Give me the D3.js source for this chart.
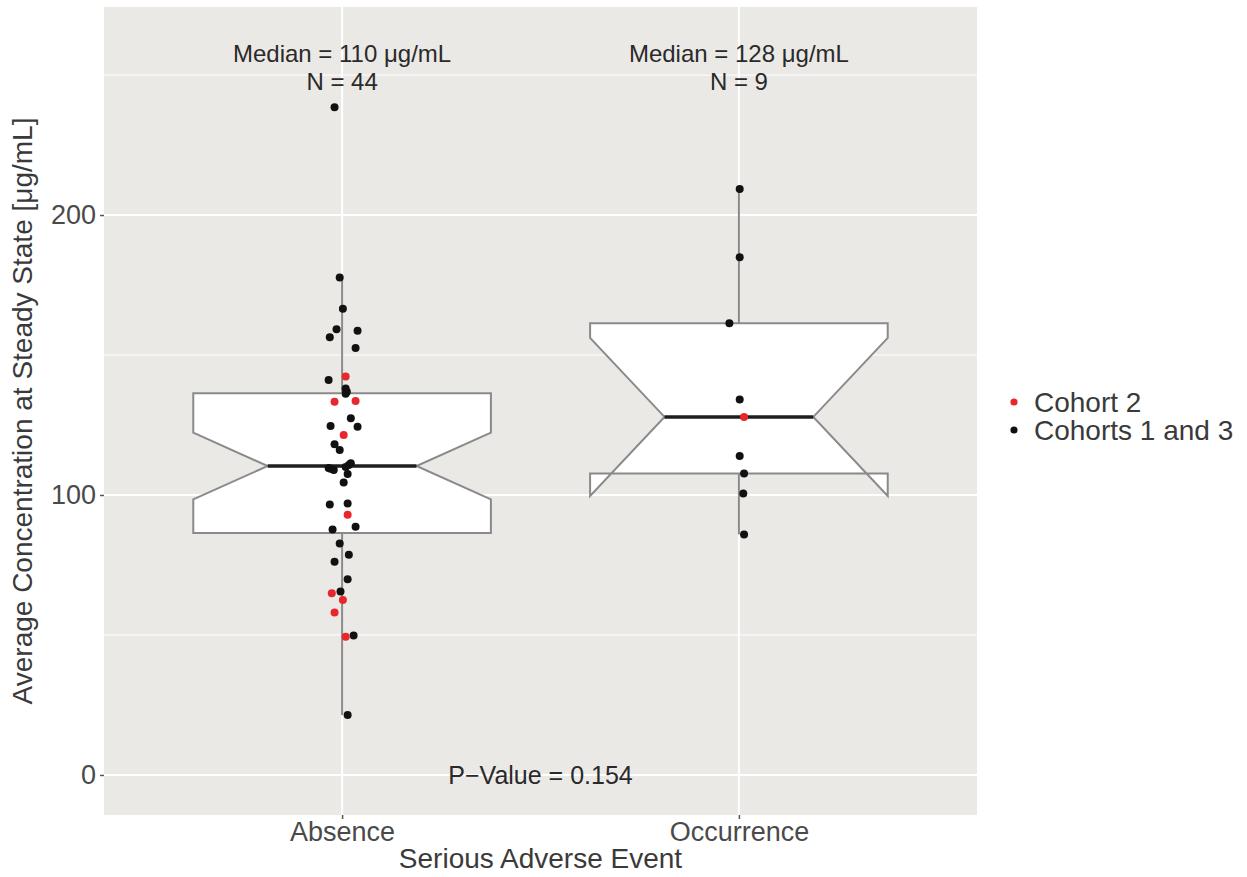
<!DOCTYPE html>
<html>
<head>
<meta charset="utf-8">
<script src="https://cdn.jsdelivr.net/npm/d3@7"></script>
<style>
  html, body { margin: 0; padding: 0; background: #ffffff; }
  svg { display: block; font-family: "Liberation Sans", Arial, sans-serif; }
</style>
</head>
<body>
<svg id="chart" width="1247" height="877"></svg>
<script>
// Categories on the x axis
const categories = ["Absence", "Occurrence"];

// Average steady-state concentrations (µg/mL), one array per group
const absenceValues = [238.5, 177.7, 166.5, 159.2, 158.7, 156.3, 152.5, 142.3, 141.1, 138.0,
  136.9, 136.2, 133.6, 133.3, 127.4, 124.6, 124.4, 121.4, 118.1, 116.1,
  111.3, 110.7, 110.0, 109.6, 109.4, 108.9, 107.5, 104.5, 97.0, 96.6,
  92.9, 88.7, 87.7, 82.7, 78.7, 76.2, 69.9, 65.5, 64.9, 62.5,
  58.0, 49.8, 49.4, 21.4];
// Cohort of each Absence subject (2 = Cohort 2, 13 = Cohorts 1 and 3)
const absenceCohort = [13, 13, 13, 13, 13, 13, 13, 2, 13, 13,
  13, 13, 2, 2, 13, 13, 13, 2, 13, 13,
  13, 13, 13, 13, 13, 13, 13, 13, 13, 13,
  2, 13, 13, 13, 13, 13, 13, 13, 2, 2,
  2, 13, 2, 13];
// Horizontal jitter of each Absence point, in category units
const absenceJitter = [-0.019, -0.006, 0.002, -0.014, 0.039, -0.031, 0.034, 0.009, -0.034, 0.009,
  0.012, 0.009, 0.034, -0.019, 0.022, -0.029, 0.039, 0.004, -0.019, -0.006,
  0.022, 0.017, 0.009, -0.034, -0.029, -0.021, 0.014, 0.004, 0.014, -0.031,
  0.014, 0.034, -0.024, -0.006, 0.017, -0.019, 0.014, -0.004, -0.026, 0.002,
  -0.019, 0.029, 0.009, 0.014];

const occurrenceValues = [209.3, 184.9, 161.3, 134.1, 127.9, 113.9, 107.7, 100.5, 85.9];
const occurrenceCohort = [13, 13, 13, 13, 2, 13, 13, 13, 13];
const occurrenceJitter = [0.002, 0.002, -0.024, 0.002, 0.013, 0.002, 0.013, 0.011, 0.013];

// Axis ticks and annotation text
const yTicks = [0, 100, 200];
const yMinorTicks = [50, 150, 250];
const pValueText = "P\u2212Value = 0.154";
const legendLabels = ["Cohort 2", "Cohorts 1 and 3"];
const legendCohorts = [2, 13];

const cohortColor = c => (c === 2 ? "#e8272c" : "#111111");

const groups = [
  { name: categories[0], values: absenceValues, cohort: absenceCohort, jitter: absenceJitter },
  { name: categories[1], values: occurrenceValues, cohort: occurrenceCohort, jitter: occurrenceJitter }
];

const svg = d3.select("#chart");
const panel = { left: 104, right: 977, top: 7, bottom: 815 };

const x = d3.scaleLinear().domain([0.4, 2.6]).range([panel.left, panel.right]);
const y = d3.scaleLinear().domain([-14.3, 274.3]).range([panel.bottom, panel.top]);

// Panel background and grid
svg.append("rect")
  .attr("x", panel.left).attr("y", panel.top)
  .attr("width", panel.right - panel.left).attr("height", panel.bottom - panel.top)
  .attr("fill", "#ebe9e6");

const grid = svg.append("g");
grid.selectAll("line.minor").data(yMinorTicks).join("line")
  .attr("x1", panel.left).attr("x2", panel.right)
  .attr("y1", d => y(d)).attr("y2", d => y(d))
  .attr("stroke", "#ffffff").attr("stroke-width", 1);
grid.selectAll("line.major").data(yTicks).join("line")
  .attr("x1", panel.left).attr("x2", panel.right)
  .attr("y1", d => y(d)).attr("y2", d => y(d))
  .attr("stroke", "#ffffff").attr("stroke-width", 2);
grid.selectAll("line.vmajor").data([1, 2]).join("line")
  .attr("x1", d => x(d)).attr("x2", d => x(d))
  .attr("y1", panel.top).attr("y2", panel.bottom)
  .attr("stroke", "#ffffff").attr("stroke-width", 2);

// Box statistics (R type-7 quantiles, McGill notches)
groups.forEach((g, i) => {
  const s = g.values.slice().sort(d3.ascending);
  const q1 = d3.quantile(s, 0.25), med = d3.quantile(s, 0.5), q3 = d3.quantile(s, 0.75);
  const iqr = q3 - q1;
  const lo = d3.min(s.filter(v => v >= q1 - 1.5 * iqr));
  const hi = d3.max(s.filter(v => v <= q3 + 1.5 * iqr));
  const notch = 1.58 * iqr / Math.sqrt(s.length);
  g.stats = { q1, med, q3, lo, hi, nl: med - notch, nu: med + notch, pos: i + 1 };
});

const boxHalf = 0.375;
const boxes = svg.append("g");
groups.forEach(g => {
  const st = g.stats, c = st.pos;
  // whiskers
  boxes.append("line")
    .attr("x1", x(c)).attr("x2", x(c)).attr("y1", y(st.q3)).attr("y2", y(st.hi))
    .attr("stroke", "#8a8a8a").attr("stroke-width", 2);
  boxes.append("line")
    .attr("x1", x(c)).attr("x2", x(c)).attr("y1", y(st.q1)).attr("y2", y(st.lo))
    .attr("stroke", "#8a8a8a").attr("stroke-width", 2);
  // notched box
  const xl = x(c - boxHalf), xr = x(c + boxHalf);
  const il = x(c - boxHalf / 2), ir = x(c + boxHalf / 2);
  const pts = [
    [xl, y(st.q3)], [xl, y(st.nu)], [il, y(st.med)], [xl, y(st.nl)], [xl, y(st.q1)],
    [xr, y(st.q1)], [xr, y(st.nl)], [ir, y(st.med)], [xr, y(st.nu)], [xr, y(st.q3)]
  ];
  boxes.append("path")
    .attr("d", d3.line()(pts) + "Z")
    .attr("fill", "#ffffff").attr("stroke", "#8a8a8a").attr("stroke-width", 2)
    .attr("stroke-linejoin", "miter");
  // median
  boxes.append("line")
    .attr("x1", il).attr("x2", ir).attr("y1", y(st.med)).attr("y2", y(st.med))
    .attr("stroke", "#1e1e1e").attr("stroke-width", 3.5);
});

// Jittered subject points
const pts = svg.append("g");
groups.forEach(g => {
  pts.selectAll(null).data(g.values.map((v, k) => ({ v, c: g.cohort[k], j: g.jitter[k] })))
    .join("circle")
    .attr("cx", d => x(g.stats.pos + d.j))
    .attr("cy", d => y(d.v))
    .attr("r", 4)
    .attr("fill", d => cohortColor(d.c));
});

// Group annotations
const ann = svg.append("g").attr("fill", "#2a2a2a").attr("font-size", 24).attr("text-anchor", "middle");
groups.forEach(g => {
  ann.append("text").attr("x", x(g.stats.pos)).attr("y", 62)
    .text(`Median = ${Math.round(g.stats.med)} \u03bcg/mL`);
  ann.append("text").attr("x", x(g.stats.pos)).attr("y", 90)
    .text(`N = ${g.values.length}`);
});
ann.append("text").attr("x", x(1.5)).attr("y", y(0)).attr("dy", "0.36em")
  .attr("font-size", 25).text(pValueText);

// Axes
const yAxis = svg.append("g").attr("transform", `translate(${panel.left},0)`)
  .call(d3.axisLeft(y).tickValues(yTicks).tickSize(4).tickPadding(4));
const xAxis = svg.append("g").attr("transform", `translate(0,${panel.bottom})`)
  .call(d3.axisBottom(x).tickValues([1, 2]).tickFormat(d => categories[d - 1]).tickSize(4).tickPadding(3));
[yAxis, xAxis].forEach(a => {
  a.select(".domain").remove();
  a.selectAll(".tick line").attr("stroke", "#555555").attr("stroke-width", 1.5);
  a.selectAll(".tick text").attr("fill", "#4a4a4a").attr("font-size", 27)
    .attr("font-family", "Liberation Sans, Arial, sans-serif");
});

svg.append("text")
  .attr("x", x(1.5)).attr("y", 868)
  .attr("text-anchor", "middle").attr("font-size", 28).attr("fill", "#3a3a3a")
  .text("Serious Adverse Event");
svg.append("text")
  .attr("transform", `translate(32,${(panel.top + panel.bottom) / 2}) rotate(-90)`)
  .attr("text-anchor", "middle").attr("font-size", 28).attr("fill", "#3a3a3a")
  .text("Average Concentration at Steady State [\u03bcg/mL]");

// Legend
const legend = svg.append("g");
legendLabels.forEach((lab, i) => {
  const ly = 402 + i * 28;
  legend.append("circle").attr("cx", 1014).attr("cy", ly).attr("r", 3.6).attr("fill", cohortColor(legendCohorts[i]));
  legend.append("text").attr("x", 1034).attr("y", ly).attr("dy", "0.36em")
    .attr("font-size", 28).attr("fill", "#3a3a3a").text(lab);
});
</script>
</body>
</html>
